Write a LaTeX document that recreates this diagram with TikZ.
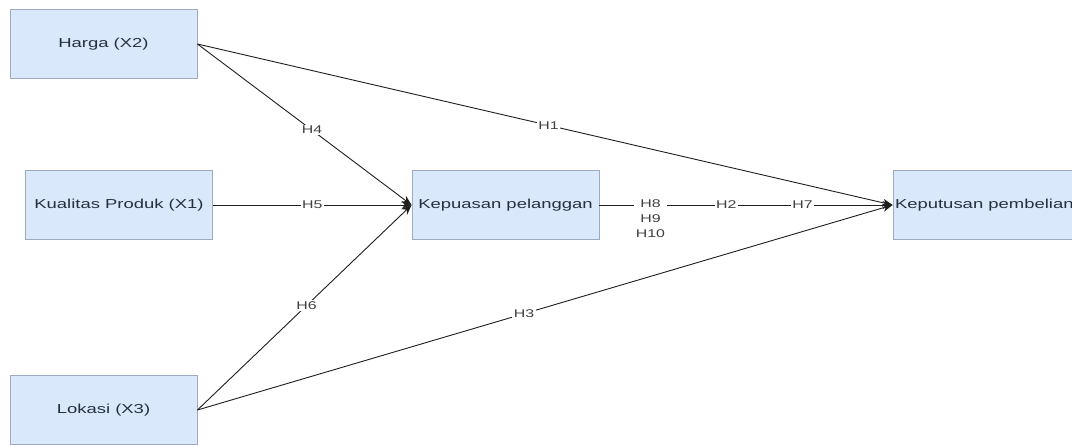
\documentclass[tikz,border=0pt]{standalone}
\usepackage{fontspec}
\setmainfont{Liberation Sans}
\newfontfamily\boxfont{Liberation Sans}[FakeStretch=1.42]
\usetikzlibrary{arrows.meta}
\definecolor{boxfill}{HTML}{DAE8FC}
\definecolor{boxline}{HTML}{9DABC0}
\definecolor{boxtext}{HTML}{25303D}
\definecolor{edge}{HTML}{1E1E1E}
\begin{document}
\begin{tikzpicture}[x=1pt,y=-1pt,
  var/.style={draw=boxline, fill=boxfill, line width=0.9pt, minimum width=187pt, minimum height=69pt, inner sep=0pt, font=\boxfont\fontsize{13}{15}\selectfont, text=boxtext},
  link/.style={draw=edge, line width=0.9pt, -{Stealth[length=10pt,width=8pt]}},
  hl/.style={fill=white, inner sep=1.5pt, font=\boxfont\fontsize{11.2}{15}\selectfont, text=edge!85, align=center}]
\useasboundingbox (0,0) rectangle (1072,445);
\begin{scope}
\clip (0,0) rectangle (1072,445);
\node[var] (harga) at (103.5,44) {Harga (X2)};
\node[var] (kual) at (119,205) {Kualitas Produk (X1)};
\node[var] (lok) at (103.5,410) {Lokasi (X3)};
\node[var] (kep) at (505.5,205) {Kepuasan pelanggan};
\node[var] (kpt) at (986.5,205) {\makebox[183pt][l]{Keputusan pembelian}};
\draw[link] (harga.east) -- node[hl,pos=0.535]{H4} (kep.west);
\draw[link] (harga.east) -- node[hl,pos=0.505]{H1} (kpt.west);
\draw[link] (kual.east) -- node[hl,pos=0.5]{H5} (kep.west);
\draw[link] (lok.east) -- node[hl,pos=0.51]{H6} (kep.west);
\draw[link] (lok.east) -- node[hl,pos=0.47]{H3} (kpt.west);
\draw[link] (kep.east) -- node[hl,pos=0.174,anchor=north,yshift=7pt]{H8\\H9\\H10}
  node[hl,pos=0.433]{H2} node[hl,pos=0.693]{H7} (kpt.west);
\end{scope}
\end{tikzpicture}
\end{document}
